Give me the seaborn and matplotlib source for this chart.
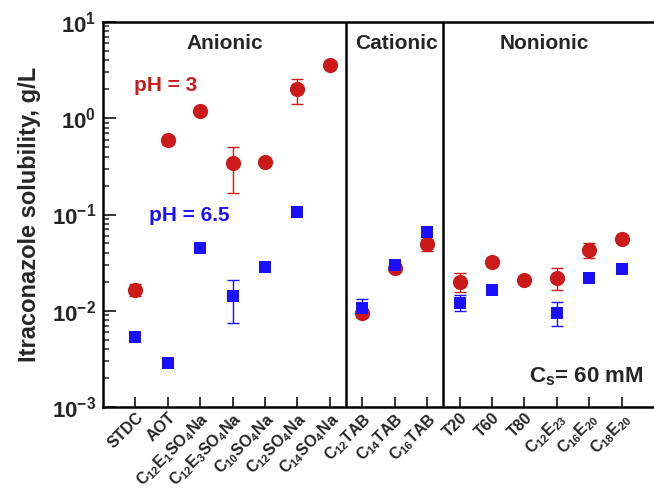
import numpy as np
import pandas as pd
import seaborn as sns
import matplotlib.pyplot as plt

# surfactants on the x axis (three groups)
cats = ['STDC', 'AOT', r'C$_{12}$E$_1$SO$_4$Na', r'C$_{12}$E$_3$SO$_4$Na',
        r'C$_{10}$SO$_4$Na', r'C$_{12}$SO$_4$Na', r'C$_{14}$SO$_4$Na',
        r'C$_{12}$TAB', r'C$_{14}$TAB', r'C$_{16}$TAB',
        'T20', 'T60', 'T80', r'C$_{12}$E$_{23}$', r'C$_{16}$E$_{20}$', r'C$_{18}$E$_{20}$']
groups = ['Anionic', 'Cationic', 'Nonionic']
nan = np.nan

# solubility at pH 3 (g/L) with error bar bounds
ph3 = [0.0164, 0.59, 1.19, 0.34, 0.35, 2.0, 3.56,
       0.0095, 0.028, 0.049,
       0.020, 0.032, 0.0208, 0.022, 0.0427, 0.0556]
ph3_lo = [0.0142, 0.53, nan, 0.167, nan, 1.40, nan,
          0.0086, 0.026, 0.042,
          0.0156, 0.029, nan, 0.0164, 0.035, nan]
ph3_hi = [0.019, 0.65, nan, 0.50, nan, 2.55, nan,
          0.0104, 0.030, 0.056,
          0.0246, 0.035, nan, 0.0277, 0.050, nan]

# solubility at pH 6.5 (g/L)
ph65 = [0.0053, 0.00286, 0.0448, 0.0142, 0.0284, 0.106, nan,
        0.0107, 0.0298, 0.0657,
        0.012, 0.0164, nan, 0.0095, 0.022, 0.027]
ph65_lo = [nan, nan, nan, 0.0074, nan, nan, nan,
           0.0086, nan, nan,
           0.0099, nan, nan, 0.0069, nan, nan]
ph65_hi = [nan, nan, nan, 0.0208, nan, nan, nan,
           0.0133, nan, nan,
           0.0145, nan, nan, 0.0122, nan, nan]

red = '#cc1a1a'
blue = '#1a0fff'

sns.set_style('ticks')
plt.rcParams['font.family'] = ['Liberation Sans', 'DejaVu Sans']
plt.rcParams['font.weight'] = 'bold'
plt.rcParams['mathtext.fontset'] = 'custom'
plt.rcParams['mathtext.rm'] = 'Liberation Sans:bold'
plt.rcParams['mathtext.it'] = 'Liberation Sans:italic:bold'
plt.rcParams['mathtext.bf'] = 'Liberation Sans:bold'
plt.rcParams['mathtext.default'] = 'rm'

x = np.arange(len(cats))
df3 = pd.DataFrame({'x': x, 'val': ph3, 'lo': ph3_lo, 'hi': ph3_hi})
df65 = pd.DataFrame({'x': x, 'val': ph65, 'lo': ph65_lo, 'hi': ph65_hi})

fig = plt.figure(figsize=(6.54, 4.91), dpi=100)
ax = fig.add_axes([0.1575, 0.1711, 0.8425, 0.784])

# error bars first
for d, c in [(df3, red), (df65, blue)]:
    e = d.dropna(subset=['lo'])
    ax.errorbar(e['x'], e['val'], yerr=[e['val'] - e['lo'], e['hi'] - e['val']],
                fmt='none', ecolor=c, elinewidth=1, capsize=4, capthick=1, zorder=2)

sns.scatterplot(data=df3, x='x', y='val', marker='o', color=red, s=120,
                linewidth=0, ax=ax, zorder=3, legend=False)
sns.scatterplot(data=df65, x='x', y='val', marker='s', color=blue, s=82,
                linewidth=0, ax=ax, zorder=4, legend=False)

ax.set_yscale('log')
ax.set_ylim(1e-3, 10)
ax.set_xlim(-1, 16)

# group separators
for xv in [6.5, 9.5]:
    ax.axvline(xv, color='black', lw=1.8, zorder=1)

ax.set_xticks(x)
ax.set_xticklabels(cats, rotation=45, ha='right', rotation_mode='anchor', fontsize=11.5)
ax.tick_params(axis='x', direction='in', length=7, width=1.3, pad=2)
ax.tick_params(axis='y', which='major', direction='in', length=9, width=1.3,
               labelsize=16, pad=5)
ax.tick_params(axis='y', which='minor', direction='in', length=4.5, width=1.1)

for s in ['left', 'bottom', 'top']:
    ax.spines[s].set_linewidth(1.8)
    ax.spines[s].set_color('black')
ax.spines['right'].set_visible(False)

ax.set_xlabel('')
ax.set_ylabel('Itraconazole solubility, g/L', fontsize=17, fontweight='bold', labelpad=8)

for gx, g in zip([2.75, 8.05, 12.63], groups):
    ax.text(gx, 6.0, g, ha='center', va='center', fontsize=15, fontweight='bold')

ax.text(0.92, 2.2, 'pH = 3', color=red, ha='center', va='center', fontsize=15, fontweight='bold')
ax.text(1.66, 0.0986, 'pH = 6.5', color=blue, ha='center', va='center', fontsize=15, fontweight='bold')
ax.text(13.9, 0.00205, r'C$_s$= 60 mM', ha='center', va='center', fontsize=16, fontweight='bold')

fig.savefig('out.png', dpi=100)
